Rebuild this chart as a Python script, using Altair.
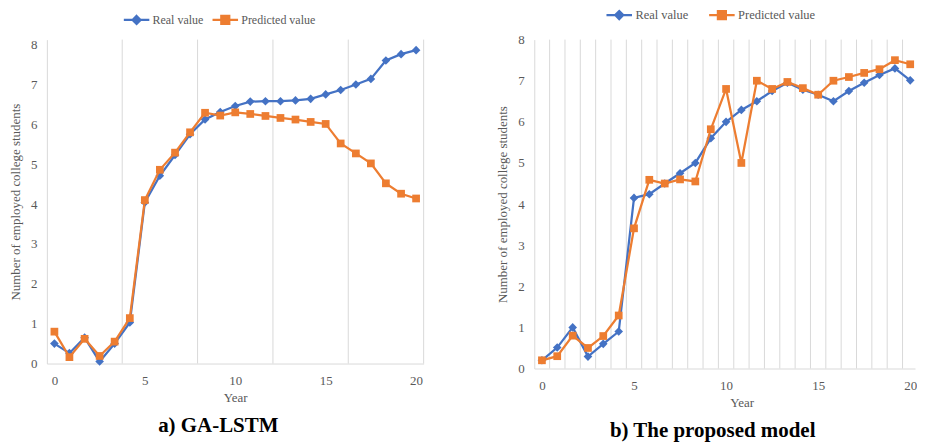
import altair as alt
import pandas as pd

# ---------------- data ----------------
years = [0.00, 0.83, 1.67, 2.50, 3.33, 4.17, 5.00, 5.83, 6.67, 7.50, 8.33, 9.17,
         10.00, 10.83, 11.67, 12.50, 13.33, 14.17, 15.00, 15.83, 16.67, 17.50,
         18.33, 19.17, 20.00]

ga_real = [0.50, 0.26, 0.65, 0.05, 0.50, 1.03, 4.04, 4.71, 5.23, 5.75, 6.12, 6.31,
           6.46, 6.57, 6.58, 6.58, 6.60, 6.64, 6.75, 6.86, 7.00, 7.14, 7.60, 7.76, 7.86]
ga_pred = [0.80, 0.16, 0.62, 0.19, 0.55, 1.14, 4.10, 4.86, 5.29, 5.80, 6.29, 6.22,
           6.30, 6.26, 6.21, 6.16, 6.12, 6.06, 6.01, 5.52, 5.27, 5.02, 4.52, 4.26, 4.14]

pm_real = [0.20, 0.51, 1.00, 0.29, 0.60, 0.90, 4.15, 4.24, 4.50, 4.75, 5.00, 5.60,
           6.00, 6.29, 6.50, 6.75, 6.95, 6.78, 6.66, 6.50, 6.75, 6.95, 7.14, 7.30, 7.01]
pm_pred = [0.20, 0.30, 0.80, 0.50, 0.79, 1.29, 3.41, 4.59, 4.50, 4.60, 4.55, 5.82,
           6.80, 5.00, 7.00, 6.80, 6.97, 6.82, 6.66, 7.00, 7.09, 7.19, 7.28, 7.50, 7.40]

series_names = ["Real value", "Predicted value"]
x_tick_labels = [0, 5, 10, 15, 20]
y_tick_labels = [0, 1, 2, 3, 4, 5, 6, 7, 8]

# category boundaries (between consecutive years) used for vertical gridlines
left_grid = [3.75, 7.9167, 12.0833, 16.25, 20.4167]
right_grid = [0.4167, 1.25, 2.0833, 2.9167, 3.75, 4.5833, 5.4167, 6.25, 7.0833,
              7.9167, 8.75, 9.5833, 10.4167, 11.25, 12.0833, 12.9167, 13.75,
              14.5833, 15.4167, 16.25, 17.0833, 17.9167, 18.75, 19.5833]

BLUE = "#4472C4"
ORANGE = "#ED7D31"
GRID = "#D9D9D9"
TXT = "#595959"
FONT = "Liberation Serif"

# legend glyphs: a short line with the series marker in the middle
DIAMOND_PATH = "M-3.2,0H3.2M0,-1L1,0L0,1L-1,0Z"
SQUARE_PATH = "M-3.2,0H3.2M-1,-1H1V1H-1Z"


def panel(real, pred, grid, xdom, ydom, width, height, legend_x, legend_y, col_pad,
          legend_fs, caption, caption_dx, caption_offset, x_title_pad, y_title_pad,
          year_title_x=None):
    df = pd.DataFrame({
        "x": years + years,
        "value": real + pred,
        "series": [series_names[0]] * len(years) + [series_names[1]] * len(years),
    })
    gdf = pd.DataFrame({"g": grid})

    xscale = alt.Scale(domain=xdom, nice=False, zero=False)
    yscale = alt.Scale(domain=ydom, nice=False, zero=True)

    xaxis_kw = dict(values=x_tick_labels, grid=False, ticks=False, tickSize=0,
                    domain=True, domainColor=GRID, domainWidth=1,
                    labelFont=FONT, labelFontSize=13, labelColor=TXT, labelPadding=11,
                    title="Year", titleFont=FONT, titleFontSize=13, titleColor=TXT,
                    titleFontWeight="normal", titlePadding=x_title_pad)
    if year_title_x is not None:
        xaxis_kw["titleX"] = year_title_x
    xaxis = alt.Axis(**xaxis_kw)
    yaxis = alt.Axis(values=y_tick_labels, grid=False, ticks=False, tickSize=0,
                     domain=True, domainColor=GRID, domainWidth=1,
                     labelFont=FONT, labelFontSize=13, labelColor=TXT, labelPadding=10,
                     title="Number of employed college students", titleFont=FONT,
                     titleFontSize=13, titleColor=TXT, titleFontWeight="normal",
                     titlePadding=y_title_pad)

    X = alt.X("x:Q", scale=xscale, axis=xaxis)
    Y = alt.Y("value:Q", scale=yscale, axis=yaxis)

    legend = alt.Legend(
        title=None, orient="none", legendX=legend_x, legendY=legend_y,
        direction="horizontal", labelFont=FONT, labelFontSize=legend_fs, labelColor=TXT,
        symbolSize=64, symbolStrokeWidth=2.25, symbolOpacity=1,
        labelOffset=10, columnPadding=col_pad,
    )
    cscale = alt.Scale(domain=series_names, range=[BLUE, ORANGE])
    sscale = alt.Scale(domain=series_names, range=[DIAMOND_PATH, SQUARE_PATH])

    rules = alt.Chart(gdf).mark_rule(color=GRID, strokeWidth=1).encode(
        x=alt.X("g:Q", scale=xscale, axis=xaxis))

    base = alt.Chart(df)
    real_f = alt.datum.series == series_names[0]
    pred_f = alt.datum.series == series_names[1]
    line_real = base.transform_filter(real_f).mark_line(
        strokeWidth=2.25, color=BLUE).encode(x=X, y=Y)
    pts_real = base.transform_filter(real_f).mark_point(
        shape="diamond", filled=True, size=75, color=BLUE, opacity=1).encode(x=X, y=Y)
    line_pred = base.transform_filter(pred_f).mark_line(
        strokeWidth=2.25, color=ORANGE).encode(x=X, y=Y)
    pts_pred = base.transform_filter(pred_f).mark_point(
        shape="square", filled=True, size=60, color=ORANGE, opacity=1).encode(x=X, y=Y)

    # legend-only layer (draws no data marks)
    leg = base.transform_filter("false").mark_point(opacity=1).encode(
        x=X, y=Y,
        fill=alt.Fill("series:N", scale=cscale, legend=legend),
        stroke=alt.Stroke("series:N", scale=cscale, legend=legend),
        shape=alt.Shape("series:N", scale=sscale, legend=legend),
    )

    return alt.layer(rules, line_real, pts_real, line_pred, pts_pred, leg).properties(
        width=width, height=height,
        title=alt.TitleParams(caption, orient="bottom", anchor="middle", frame="group",
                              dx=caption_dx, offset=caption_offset, font=FONT,
                              fontSize=21, fontWeight="bold", color="black"),
    )


left = panel(ga_real, ga_pred, left_grid, [-0.4167, 20.4167], [0, 8.125], 378, 325,
             legend_x=84, legend_y=-26, col_pad=4, legend_fs=12, caption="a) GA-LSTM",
             caption_dx=-17, caption_offset=11, x_title_pad=4, y_title_pad=8)
right = panel(pm_real, pm_pred, right_grid, [-0.4167, 20.26], [0, 8], 382, 330,
              legend_x=79, legend_y=-31, col_pad=15, legend_fs=12.5,
              caption="b) The proposed model", caption_dx=-12, caption_offset=11,
              x_title_pad=4, y_title_pad=8, year_title_x=208)

chart = alt.hconcat(left, right, spacing=72).resolve_scale(
    fill="independent", stroke="independent", shape="independent",
    x="independent", y="independent"
).resolve_legend(fill="independent", stroke="independent", shape="independent").properties(
    padding={"left": 1, "top": 0, "right": 0, "bottom": 0}
).configure_view(stroke=None)

chart.save("out.html", embed_options={"renderer": "svg", "actions": False})
